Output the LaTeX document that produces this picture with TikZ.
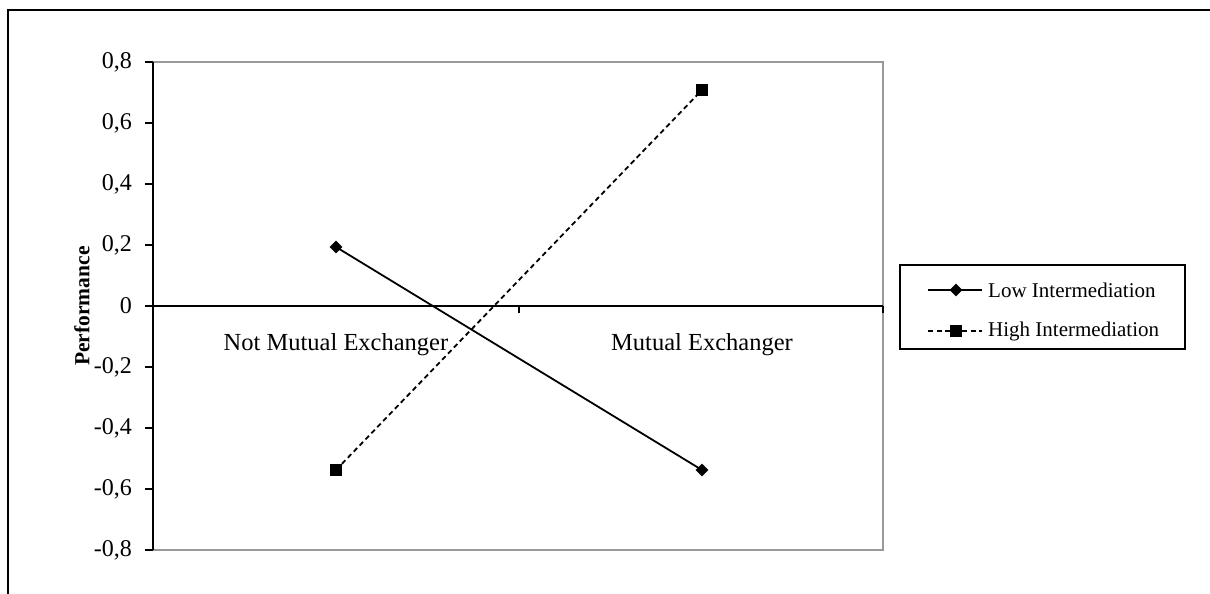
\documentclass[tikz,border=0pt]{standalone}
\usepackage{fontspec}
\setmainfont{Liberation Serif}
\usetikzlibrary{shapes.geometric}
\begin{document}
\begin{tikzpicture}[x=1pt,y=-1pt,
  ticklab/.style={anchor=east,font=\fontsize{24}{28}\selectfont,inner sep=0pt},
  catlab/.style={anchor=center,font=\fontsize{24.5}{28}\selectfont,inner sep=0pt},
  leglab/.style={anchor=west,font=\fontsize{21}{24}\selectfont,inner sep=0pt},
  lowline/.style={line width=1.8pt,black},
  highline/.style={line width=1.8pt,black,dash pattern=on 5pt off 3.5pt},
  dmark/.style={diamond,fill=black,inner sep=0pt,minimum width=13pt,minimum height=13pt},
  smark/.style={rectangle,fill=black,inner sep=0pt,minimum size=12pt},
  axis/.style={line width=1.6pt,black},
  grayframe/.style={line width=1.4pt,gray!80}]
\useasboundingbox (0,0) rectangle (1210,594);
% outer frame (cropped)
\draw[line width=2pt] (8,594) -- (8,10) -- (1210,10);
% plot area
\draw[grayframe] (153,62) -- (883,62) -- (883,550) -- (153,550);
\draw[axis] (153,62) -- (153,550);
\foreach \v/\lab in {0/{0,8},1/{0,6},2/{0,4},3/{0,2},4/{0},5/{-0,2},6/{-0,4},7/{-0,6},8/{-0,8}}{
  \draw[axis] (145,62+61*\v) -- (153,62+61*\v);
  \node[ticklab] (t\v) at (132,62+61*\v) {\lab};
}
\draw[axis] (153,306) -- (883,306);
\draw[axis] (519,306) -- (519,313);
\draw[axis] (883,306) -- (883,313);
\node[catlab] (c1) at (336,345) {Not Mutual Exchanger};
\node[catlab] (c2) at (702,345) {Mutual Exchanger};
\node[rotate=90,font=\bfseries\fontsize{21.5}{24}\selectfont,inner sep=0pt] (yl) at (82,306) {Performance};
% data
\coordinate (l1) at (336,247);
\coordinate (l2) at (702,470);
\coordinate (h1) at (336,470);
\coordinate (h2) at (702,90);
\draw[lowline] (l1) -- (l2);
\draw[highline] (h1) -- (h2);
\node[dmark] (ml1) at (l1) {};
\node[dmark] (ml2) at (l2) {};
\node[smark] (mh1) at (h1) {};
\node[smark] (mh2) at (h2) {};
% legend
\draw[line width=1.5pt] (900,265) rectangle (1185,349);
\coordinate (a1) at (928,290);
\coordinate (a2) at (982,290);
\coordinate (b1) at (928,331);
\coordinate (b2) at (982,331);
\draw[lowline] (a1) -- (a2);
\draw[highline] (b1) -- (b2);
\node[dmark] (lm1) at (956,290) {};
\node[smark] (lm2) at (956,331) {};
\node[leglab] (lg1) at (988,290) {Low Intermediation};
\node[leglab] (lg2) at (988,331) {High Intermediation};
\end{tikzpicture}
\end{document}
